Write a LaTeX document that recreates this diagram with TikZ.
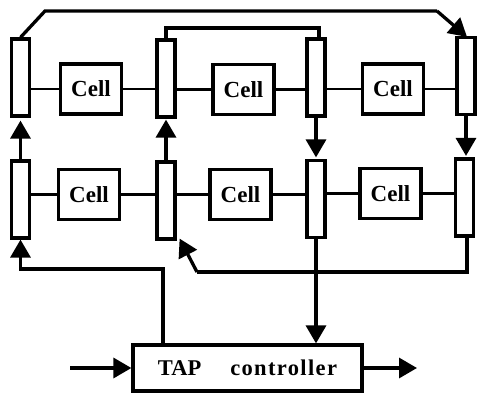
\documentclass[tikz,border=0pt]{standalone}
\usepackage{fontspec}
\setmainfont{Liberation Serif}
\usetikzlibrary{arrows.meta}
\begin{document}
\begin{tikzpicture}[x=1pt,y=-1pt,
  bnd/.style={draw,line width=3.2pt,minimum width=18pt,minimum height=77pt,inner sep=0pt},
  cellbox/.style={draw,line width=3.2pt,minimum width=61pt,minimum height=50pt,inner sep=0pt,
    font=\fontsize{23}{25}\selectfont\bfseries},
  link/.style={line width=2.6pt},
  wire/.style={line width=3.3pt},
  arr/.style={wire,-{Triangle[length=18pt,width=20pt]}},
]
\useasboundingbox (0,0) rectangle (477,394);
% boundary cells
\node[bnd] (B1) at (20.5,77.5) {};
\node[bnd] (B2) at (166,78.5) {};
\node[bnd] (B3) at (316,77.5) {};
\node[bnd] (B4) at (466,76) {};
\node[bnd] (B5) at (20.5,199.5) {};
\node[bnd] (B6) at (166,200.5) {};
\node[bnd] (B7) at (316,199) {};
\node[bnd] (B8) at (464.5,197.5) {};
% cells
\node[cellbox] (C1) at (91,89) {Cell};
\node[cellbox] (C2) at (243.5,89.5) {Cell};
\node[cellbox] (C3) at (393,89) {Cell};
\node[cellbox] (C4) at (89,194.5) {Cell};
\node[cellbox] (C5) at (240.5,194.5) {Cell};
\node[cellbox] (C6) at (390.5,193.5) {Cell};
% TAP controller
\node[draw,line width=3.2pt,minimum width=229pt,minimum height=46pt,inner sep=0pt,
  font=\fontsize{22.5}{24}\selectfont\bfseries] (TAP) at (247.5,368)
  {TAP\hspace{29pt}{\addfontfeature{LetterSpace=6}controller}};
% links
\foreach \c/\l/\r in {C1/B1/B2,C2/B2/B3,C3/B3/B4,C4/B5/B6,C5/B6/B7,C6/B7/B8}{
  \draw[link] (\l.east |- \c.west) -- (\c.west);
  \draw[link] (\c.east) -- (\r.west |- \c.east);
}
% coordinates for bends
\coordinate (t1) at (45,11);
\coordinate (t2) at (437,11);
\coordinate (u1) at (166,28);
\coordinate (u2) at (319,28);
\coordinate (k1) at (163,269);
\coordinate (r1) at (467,272);
\coordinate (r2) at (197,272);
\coordinate (in) at (70,368);
\coordinate (out) at (417,368);
% top loop wires
\draw[wire] (B1.north) -- (t1) -- (t2);
\draw[arr] (t2) -- ([xshift=1pt,yshift=-1pt]B4.north);
\draw[wire] (B2.north) -- (u1) -- (u2) -- (u2 |- B3.north);
% vertical arrows
\draw[arr,shorten >=3pt] (B5.north) -- (B1.south);
\draw[arr,shorten >=1pt] (B6.north) -- (B2.south);
\draw[arr,shorten >=1.5pt] (B3.south) -- (B7.north);
\draw[arr,shorten >=1.5pt] (B4.south) -- (B4.south |- B8.north);
% TAP to B5
\draw[arr] (k1 |- TAP.north) -- (k1) -| (B5.south);
% B8 back to B6
\draw[wire] (r1 |- B8.south) -- (r1) -- (r2);
\draw[arr] (r2) -- ([xshift=3pt,yshift=2pt]B6.south east);
% B7 to TAP
\draw[arr] (B7.south) -- (B7.south |- TAP.north);
% TAP in/out
\draw[arr] (in) -- (TAP.west);
\draw[arr] (TAP.east) -- (out);
\end{tikzpicture}
\end{document}
